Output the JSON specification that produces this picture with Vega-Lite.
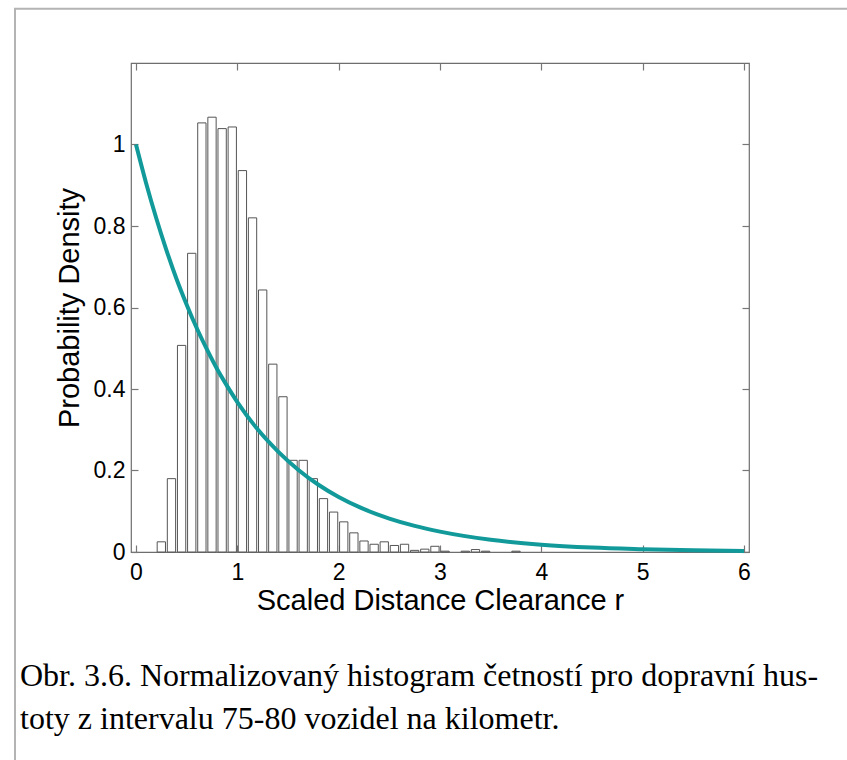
{
  "$schema": "https://vega.github.io/schema/vega-lite/v6.json",
  "width": 618,
  "height": 489,
  "autosize": {"type": "none"},
  "padding": {"left": 131, "top": 63, "right": 98, "bottom": 208},
  "background": "white",
  "config": {
    "view": {"stroke": "#6e6e6e", "strokeWidth": 1.2},
    "axis": {
      "labelFont": "Liberation Sans",
      "titleFont": "Liberation Sans",
      "labelColor": "black",
      "titleColor": "black",
      "domain": false,
      "grid": false,
      "tickColor": "#777777",
      "tickWidth": 1.2
    }
  },
  "title": {
    "text": ["Obr. 3.6. Normalizovaný histogram četností pro dopravní hus-", "toty z intervalu 75-80 vozidel na kilometr."],
    "orient": "bottom",
    "anchor": "start",
    "frame": "group",
    "dx": -111,
    "offset": -104,
    "font": "Liberation Serif",
    "fontSize": 32,
    "fontWeight": "normal",
    "color": "black",
    "lineHeight": 43
  },
  "datasets": {
    "hist": [
      {"r": 0.25, "density": 0.025},
      {"r": 0.35, "density": 0.18},
      {"r": 0.45, "density": 0.507},
      {"r": 0.55, "density": 0.733},
      {"r": 0.65, "density": 1.053},
      {"r": 0.75, "density": 1.067},
      {"r": 0.85, "density": 1.039},
      {"r": 0.95, "density": 1.043},
      {"r": 1.05, "density": 0.936},
      {"r": 1.15, "density": 0.82},
      {"r": 1.25, "density": 0.643},
      {"r": 1.35, "density": 0.461},
      {"r": 1.45, "density": 0.381},
      {"r": 1.55, "density": 0.225},
      {"r": 1.65, "density": 0.225},
      {"r": 1.75, "density": 0.18},
      {"r": 1.85, "density": 0.131},
      {"r": 1.95, "density": 0.098},
      {"r": 2.05, "density": 0.074},
      {"r": 2.15, "density": 0.047},
      {"r": 2.25, "density": 0.027},
      {"r": 2.35, "density": 0.019},
      {"r": 2.45, "density": 0.025},
      {"r": 2.55, "density": 0.016},
      {"r": 2.65, "density": 0.019},
      {"r": 2.75, "density": 0.004},
      {"r": 2.85, "density": 0.007},
      {"r": 2.95, "density": 0.014},
      {"r": 3.05, "density": 0.002},
      {"r": 3.25, "density": 0.002},
      {"r": 3.35, "density": 0.006},
      {"r": 3.45, "density": 0.002},
      {"r": 3.75, "density": 0.002}
    ],
    "curve": [
      {"r": 0, "density": 1},
      {"r": 0.1, "density": 0.905},
      {"r": 0.2, "density": 0.819},
      {"r": 0.3, "density": 0.741},
      {"r": 0.4, "density": 0.67},
      {"r": 0.5, "density": 0.607},
      {"r": 0.6, "density": 0.549},
      {"r": 0.7, "density": 0.497},
      {"r": 0.8, "density": 0.449},
      {"r": 0.9, "density": 0.407},
      {"r": 1.0, "density": 0.368},
      {"r": 1.2, "density": 0.301},
      {"r": 1.4, "density": 0.247},
      {"r": 1.6, "density": 0.202},
      {"r": 1.8, "density": 0.165},
      {"r": 2.0, "density": 0.135},
      {"r": 2.25, "density": 0.105},
      {"r": 2.5, "density": 0.082},
      {"r": 2.75, "density": 0.064},
      {"r": 3.0, "density": 0.05},
      {"r": 3.5, "density": 0.03},
      {"r": 4.0, "density": 0.018},
      {"r": 4.5, "density": 0.011},
      {"r": 5.0, "density": 0.007},
      {"r": 5.5, "density": 0.004},
      {"r": 6.0, "density": 0.0025}
    ]
  },
  "layer": [
    {
      "data": {"name": "hist"},
      "mark": {"type": "bar", "fill": "white", "stroke": "#555555", "strokeWidth": 1, "size": 8.3},
      "encoding": {
        "x": {
          "field": "r", "type": "quantitative",
          "scale": {"domain": [0, 6], "nice": false, "zero": false},
          "axis": {
            "orient": "bottom",
            "values": [0, 1, 2, 3, 4, 5, 6],
            "format": "d",
            "tickSize": -7,
            "labelPadding": 16,
            "labelFontSize": 23,
            "title": "Scaled Distance Clearance r",
            "titleFontSize": 29,
            "titleFontWeight": "normal",
            "titlePadding": 2
          }
        },
        "y": {
          "field": "density", "type": "quantitative",
          "scale": {"domain": [0, 1.2], "nice": false},
          "axis": {
            "orient": "left",
            "values": [0, 0.2, 0.4, 0.6, 0.8, 1],
            "format": "~g",
            "tickSize": -7,
            "labelPadding": 13,
            "labelFontSize": 23,
            "title": "Probability Density",
            "titleFontSize": 29,
            "titleFontWeight": "normal",
            "titlePadding": 9
          }
        }
      }
    },
    {
      "data": {"name": "curve"},
      "mark": {"type": "line", "color": "#129a9a", "strokeWidth": 4, "interpolate": "monotone"},
      "encoding": {
        "x": {
          "field": "r", "type": "quantitative",
          "axis": {"orient": "top", "values": [0, 1, 2, 3, 4, 5, 6], "labels": false, "title": null, "tickSize": -7}
        },
        "y": {
          "field": "density", "type": "quantitative",
          "axis": {"orient": "right", "values": [0, 0.2, 0.4, 0.6, 0.8, 1], "labels": false, "title": null, "tickSize": -7}
        }
      }
    },
    {
      "data": {"values": [{}]},
      "mark": {"type": "rect", "fill": null, "stroke": "#b4b4b4", "strokeWidth": 2},
      "encoding": {
        "x": {"datum": -1.194, "type": "quantitative", "axis": null},
        "x2": {"datum": 7.5},
        "y": {"datum": 1.333, "type": "quantitative", "axis": null},
        "y2": {"datum": -0.52}
      }
    }
  ],
  "resolve": {"axis": {"x": "independent", "y": "independent"}}
}
